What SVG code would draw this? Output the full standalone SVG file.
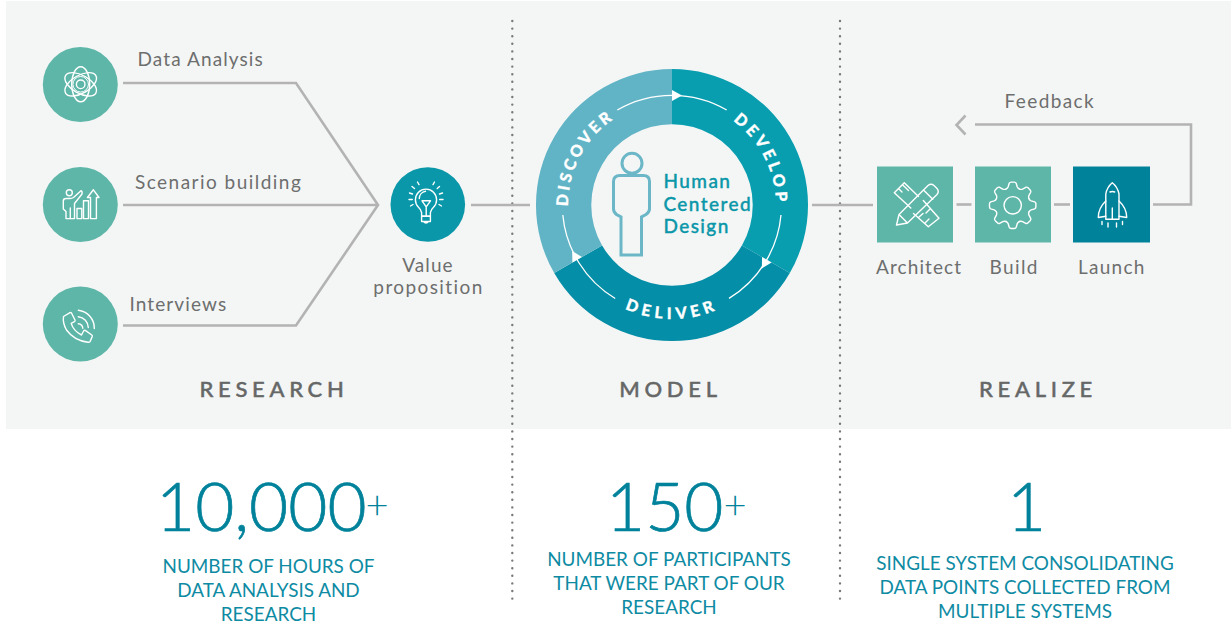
<svg xmlns="http://www.w3.org/2000/svg" xmlns:xlink="http://www.w3.org/1999/xlink" width="1231" height="625" viewBox="0 0 1231 625">
<style>
text{font-family:"Lato","Open Sans","Liberation Sans",sans-serif}
.lbl{font-size:19px;fill:#6d6e6e;letter-spacing:1.1px}
.sec{font-size:22px;font-weight:500;fill:#666767;stroke:#666767;stroke-width:.45px;letter-spacing:4.7px;text-anchor:middle}
.num{font-size:67.5px;fill:#00829b;stroke:#00829b;stroke-width:.7px;font-weight:300}
.plus{font-size:40px;fill:#00829b;font-weight:300}
.cap{font-size:18.9px;fill:#0e8ba3;text-anchor:middle}
.hcd{font-size:19px;font-weight:500;fill:#0a97a9;stroke:#0a97a9;stroke-width:.35px;letter-spacing:1.4px}
.ring{font-size:16px;font-weight:900;fill:#fff;stroke:#fff;stroke-width:.3px;text-anchor:middle}
.ln{fill:none;stroke:#b3b3b3;stroke-width:2.6}
.dot{fill:none;stroke:#77797a;stroke-width:2.4;stroke-linecap:round;stroke-dasharray:0 7.6}
.ic{fill:none;stroke:#fff;stroke-width:1.4;stroke-linejoin:round;stroke-linecap:round}
</style>
<defs>
<path id="pDiscover" d="M576.3 245.6A104 104 0 0 1 648.6 103.7"/>
<path id="pDevelop" d="M695.4 103.7A104 104 0 0 1 767.7 245.6"/>
<path id="pDeliver" d="M584.7 278.3A114 114 0 0 0 759.3 278.3"/>
<path id="tooth" d="M-6.7 -16.2Q-5 -17 -4.5 -18.5L-3.5 -22Q-3 -23.2 -1.5 -23.2L1.5 -23.2Q3 -23.2 3.5 -22L4.5 -18.5Q5 -17 6.7 -16.2"/>
</defs>
<rect x="6" y="1" width="1225" height="428" fill="#f4f6f5"/>
<g id="dividers">
<line class="dot" x1="512.3" y1="21" x2="512.3" y2="600"/>
<line class="dot" x1="840" y1="21" x2="840" y2="600"/>
</g>
<g id="connectors">
<path class="ln" d="M123 83H296L378 205L296 325.5H123"/>
<path class="ln" d="M123 205H378"/>
<path class="ln" d="M471 205H530"/>
<path class="ln" d="M812 205H873"/>
<path class="ln" d="M956.5 204.5H971.5"/>
<path class="ln" d="M1054 204.5H1070"/>
<path class="ln" d="M1153 204.5H1191V124.5H975"/>
<path class="ln" d="M965.5 115.5L956.5 125L965.5 134.5" stroke-width="2.8"/>
</g>
<g id="node-data-analysis">
<circle cx="80.3" cy="84.5" r="37.5" fill="#5eb6a9"/>
<g class="ic" transform="translate(80.7 84.3)">
<circle r="4.3"/><circle r="7.8" stroke-width="1"/>
<ellipse rx="17.5" ry="9" transform="rotate(90)"/>
<ellipse rx="17.5" ry="9" transform="rotate(30)"/>
<ellipse rx="17.5" ry="9" transform="rotate(-30)"/>
</g>
<text class="lbl" x="137.5" y="66.2">Data Analysis</text>
</g>
<g id="node-scenario">
<circle cx="80.3" cy="204.5" r="37.5" fill="#5eb6a9"/>
<g class="ic">
<circle cx="69.3" cy="192.8" r="3"/>
<path d="M81 190.7L73.5 197.5Q72 198.5 70 198.5H66Q63.3 198.5 63.3 201V209L66 211.5V218.6H74.5V203.5L82 194Q82.5 191 81 190.7Z"/>
<path d="M70.3 218.6V208"/>
<rect x="77" y="208.5" width="4.8" height="10.1"/>
<rect x="83.5" y="200.8" width="5" height="17.8"/>
<path d="M90.5 218.6V197.5H87.4L93.4 189.8L99 197.5H96.4V218.6Z"/>
</g>
<text class="lbl" x="135" y="189" style="letter-spacing:1.47px">Scenario building</text>
</g>
<g id="node-interviews">
<circle cx="80.3" cy="324" r="37.5" fill="#5eb6a9"/>
<g class="ic">
<path d="M63.5 316.5L70 312.6Q71 312.3 71.6 313.2L75 320Q75.4 321 74.4 321.6L71.2 323.4Q73.5 331 81.5 335L83.6 331Q84.3 330 85.3 330.4L91.8 335Q92.6 335.6 92.2 336.6L90 341.6Q89.4 342.4 88 342.2Q74 340.5 66.5 330Q62.5 323 63.5 316.5Z"/>
<path d="M78.3 310.2A18 18 0 0 1 94.3 328.5"/>
<path d="M78.3 316.7A11 11 0 0 1 88.3 327.5"/>
<path d="M78.3 323.8A5 5 0 0 1 82.8 328.3"/>
</g>
<text class="lbl" x="129.5" y="311">Interviews</text>
</g>
<g id="node-value">
<circle cx="427.8" cy="204.5" r="37.3" fill="#0a97a9"/>
<g class="ic">
<path d="M421.6 216.3V212.5Q421 209.5 418.5 207.2A10.6 10.6 0 1 1 433.5 207.2Q431 209.5 430.4 212.5V216.3Z"/>
<path d="M421.6 216.3H430.4V221.5H421.6ZM423.5 221.5Q426 224.5 428.5 221.5"/>
<path d="M422 200.8H430.5L426.2 206.8ZM426.2 206.8V216"/>
<path d="M419.3 198.5A7.5 7.5 0 0 1 425.5 191.3"/>
<path d="M412 186.5L414.5 188.5M409.5 193L412.5 194M409 199.5H412.3M410.5 206L413 204.5M439.5 186.5L437.2 188.5M442.5 193L439.5 194M443 199.5H439.7M441.5 206L439 204.5M417.5 182L419 184.6M434.5 182L433 184.6"/>
</g>
<text class="lbl" x="428" y="272" text-anchor="middle">Value</text>
<text class="lbl" x="428.5" y="294" text-anchor="middle" style="letter-spacing:1.4px">proposition</text>
</g>
<g id="node-cycle">
<path id="seg-develop" fill="#089eb0" d="M672 69A136 136 0 0 1 789.8 273L741.9 245.4A80.7 80.7 0 0 0 672 124.3Z"/>
<path id="seg-deliver" fill="#058ea7" d="M789.8 273A136 136 0 0 1 554.2 273L602.1 245.4A80.7 80.7 0 0 0 741.9 245.4Z"/>
<path id="seg-discover" fill="#61b4c6" d="M554.2 273A136 136 0 0 1 672 69V124.3A80.7 80.7 0 0 0 602.1 245.4Z"/>
<g fill="none" stroke="#fff" stroke-width="1.3">
<path d="M617.3 110A109.5 109.5 0 0 1 726.7 110"/>
<path d="M781 215A109.5 109.5 0 0 1 729 298.4"/>
<path d="M615.2 298.5A109.5 109.5 0 0 1 562.8 215"/>
</g>
<g fill="#fff">
<path d="M672 90L682 95.5L672 101Z"/>
<path d="M672 90L682 95.5L672 101Z" transform="rotate(120 672 205)"/>
<path d="M672 90L682 95.5L672 101Z" transform="rotate(240 672 205)"/>
</g>
<text class="ring" style="letter-spacing:3.1px"><textPath href="#pDiscover" startOffset="51%">DISCOVER</textPath></text>
<text class="ring" style="letter-spacing:3.7px"><textPath href="#pDevelop" startOffset="50%">DEVELOP</textPath></text>
<text class="ring" style="letter-spacing:4.5px"><textPath href="#pDeliver" startOffset="50%">DELIVER</textPath></text>
<g fill="none" stroke="#6bb7c8" stroke-width="3">
<circle cx="632" cy="163.3" r="10"/>
<path d="M620 175.5H643.5Q649.5 175.5 649.5 181.5V209Q649.5 212 646 214.5L641.5 217V255H621V217L616.5 214.5Q613.5 212 613.5 209V181.5Q613.5 175.5 620 175.5Z"/>
</g>
<text class="hcd" x="663.5" y="188">Human</text>
<text class="hcd" x="663.5" y="210.5">Centered</text>
<text class="hcd" x="663.5" y="233">Design</text>
</g>
<g id="node-architect">
<rect x="877" y="166.5" width="76" height="76" fill="#5eb6a9"/>
<g class="ic">
<path d="M896.5 225L899 214.5L928 185.5Q931 183 934 185.5L937 188.5Q939.5 191.5 937 194.5L907.5 223ZM899 214.5L907.5 223M923.5 190L932.8 199.3"/>
<path d="M910.8 208L894.3 192.7L904.3 182.7L918.5 196.5M898.5 188.5L902 192M902.5 184.7L908.5 190.5"/>
<path d="M923.3 200.5L939 218.3L928.3 226.7L913.5 213.5M919 217L923 213.5M925.5 222.5L929 219M930 209L926 213"/>
</g>
<text class="lbl" x="876" y="274">Architect</text>
</g>
<g id="node-build">
<rect x="975" y="166.5" width="76" height="76" fill="#5eb6a9"/>
<g class="ic" transform="translate(1012.7 205.3)">
<circle r="8.7"/>
<use href="#tooth"/>
<use href="#tooth" transform="rotate(45)"/>
<use href="#tooth" transform="rotate(90)"/>
<use href="#tooth" transform="rotate(135)"/>
<use href="#tooth" transform="rotate(180)"/>
<use href="#tooth" transform="rotate(225)"/>
<use href="#tooth" transform="rotate(270)"/>
<use href="#tooth" transform="rotate(315)"/>
</g>
<text class="lbl" x="989.5" y="274" style="letter-spacing:1.4px">Build</text>
</g>
<g id="node-launch">
<rect x="1073" y="166.5" width="77" height="76" fill="#00829b"/>
<g class="ic">
<path d="M1105.8 219.3V194Q1107 187 1112.3 182.7Q1117.7 187 1119 194V219.3Z"/>
<path d="M1105.8 201Q1098.3 208 1098.3 217.5L1105.8 216.3M1119 201Q1126.7 208 1126.7 217.5L1119 216.3"/>
<path d="M1110 192Q1112.3 191 1114.7 192M1112.3 208V219.3"/>
<path d="M1102 221.5V224.5M1108 223V227M1116.5 223V227M1122.5 221.5V224.5"/>
</g>
<text class="lbl" x="1078" y="274" style="letter-spacing:1.25px">Launch</text>
</g>
<text class="lbl" x="1004.5" y="108" style="letter-spacing:1.4px">Feedback</text>
<g id="section-titles">
<text class="sec" x="274" y="397">RESEARCH</text>
<text class="sec" x="670.5" y="397">MODEL</text>
<text class="sec" x="1038" y="397">REALIZE</text>
</g>
<g id="stat-hours">
<text class="num" x="156" y="531">10,000</text>
<text class="plus" x="365.5" y="519">+</text>
<text class="cap" x="268.5" y="572.7">NUMBER OF HOURS OF</text>
<text class="cap" x="268.5" y="596.7">DATA ANALYSIS AND</text>
<text class="cap" x="268.5" y="620.7">RESEARCH</text>
</g>
<g id="stat-participants">
<text class="num" x="606" y="531">150</text>
<text class="plus" x="723.5" y="519">+</text>
<text class="cap" x="669" y="565.7">NUMBER OF PARTICIPANTS</text>
<text class="cap" x="669" y="589.7">THAT WERE PART OF OUR</text>
<text class="cap" x="669" y="614.2">RESEARCH</text>
</g>
<g id="stat-system">
<text class="num" x="1007" y="531">1</text>
<text class="cap" x="1025" y="569.9">SINGLE SYSTEM CONSOLIDATING</text>
<text class="cap" x="1025" y="593.9">DATA POINTS COLLECTED FROM</text>
<text class="cap" x="1025" y="617.9">MULTIPLE SYSTEMS</text>
</g>
</svg>
